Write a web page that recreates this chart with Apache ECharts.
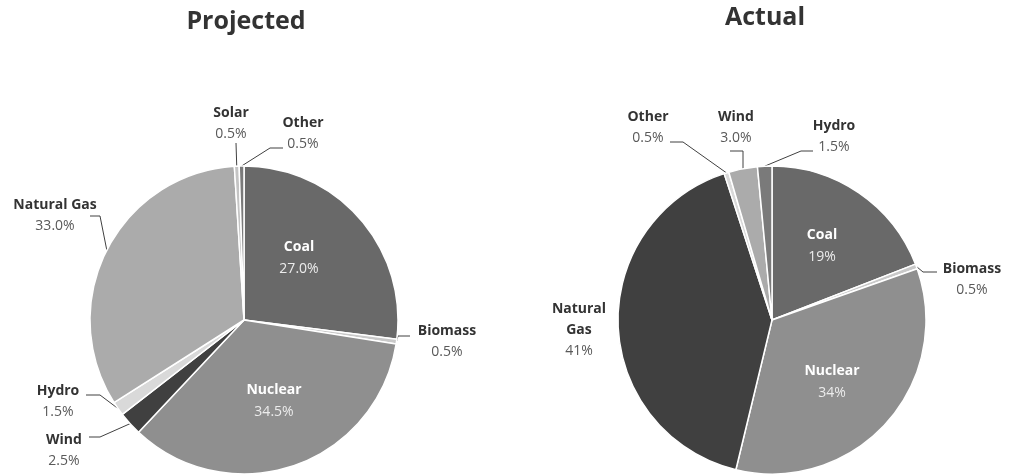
<!DOCTYPE html>
<html lang="en">
  <head>
    <meta charset="UTF-8" />
    <title>Projected vs Actual</title>
    <style>
      * {
        padding: 0;
        margin: 0;
      }
      html,
      body {
        width: 100%;
        height: 100%;
        background: #fff;
      }
      #main {
        width: 1015px;
        height: 474px;
      }
    </style>
  </head>
  <body>
    <div id="main"></div>
    <script src="https://cdn.jsdelivr.net/npm/echarts@6/dist/echarts.min.js"></script>
    <script>
      // data
      var projectedNames = ['Coal', 'Biomass', 'Nuclear', 'Wind', 'Hydro', 'Natural Gas', 'Solar', 'Other'];
      var projectedValues = [27.0, 0.5, 34.5, 2.5, 1.5, 33.0, 0.5, 0.5];
      var projectedColors = ['#696969', '#c9c9c9', '#8f8f8f', '#404040', '#d9d9d9', '#ababab', '#c4c4c4', '#7a7a7a'];

      var actualNames = ['Coal', 'Biomass', 'Nuclear', 'Natural Gas', 'Other', 'Wind', 'Hydro'];
      var actualValues = [19, 0.5, 34, 41, 0.5, 3.0, 1.5];
      var actualColors = ['#696969', '#c9c9c9', '#8f8f8f', '#404040', '#d9d9d9', '#ababab', '#7a7a7a'];

      var insideNames = ['Coal', 'Nuclear'];
      var font = '"Open Sans", "Noto Sans", sans-serif';

      // where each label sits: block centre, and the bend / end of its leader line
      var labelSpots = [
        {
          'Coal': { c: [299, 258] },
          'Nuclear': { c: [274, 401] },
          'Biomass': { c: [447, 342], bend: [398, 336], end: [410, 336] },
          'Wind': { c: [64, 451], bend: [100, 437], end: [89, 437] },
          'Hydro': { c: [58, 402], bend: [100, 395], end: [86, 395] },
          'Natural Gas': { c: [55, 216], bend: [100, 216], end: [90, 216] },
          'Solar': { c: [231, 124], bend: [236, 143], end: [236, 143] },
          'Other': { c: [303, 134], bend: [270, 148], end: [283, 148] }
        },
        {
          'Coal': { c: [822, 246] },
          'Nuclear': { c: [832, 382] },
          'Biomass': { c: [972, 280], bend: [923, 272], end: [937, 272] },
          'Natural Gas': { c: [579, 330] },
          'Other': { c: [648, 128], bend: [683, 142], end: [670, 142] },
          'Wind': { c: [736, 128], bend: [743, 151], end: [730, 151] },
          'Hydro': { c: [834, 137], bend: [801, 151], end: [813, 151] }
        }
      ];

      var myChart = echarts.init(document.getElementById('main'));

      function buildData(names, values, colors, fmt, wrapNames) {
        return names.map(function(n, i) {
          var item = {
            name: n,
            value: values[i],
            itemStyle: { color: colors[i] }
          };
          var shown = wrapNames ? n.split(' ') : [n];
          if (insideNames.indexOf(n) > -1) {
            item.label = {
              position: 'inside',
              formatter: '{ni|' + n + '}\n{vi|' + fmt(values[i]) + '}'
            };
          } else {
            item.label = {
              formatter: shown.map(function(p) { return '{n|' + p + '}'; }).join('\n') + '\n{v|' + fmt(values[i]) + '}'
            };
          }
          return item;
        });
      }

      var rich = {
        n: { fontFamily: font, fontWeight: 'bold', fontSize: 14, color: '#333', lineHeight: 21, align: 'center' },
        v: { fontFamily: font, fontSize: 14, color: '#595959', lineHeight: 21, align: 'center' },
        ni: { fontFamily: font, fontWeight: 'bold', fontSize: 14, color: '#fff', lineHeight: 22, align: 'center' },
        vi: { fontFamily: font, fontSize: 14, color: '#ececec', lineHeight: 22, align: 'center' }
      };

      function pieSeries(idx, cx, data) {
        var spots = labelSpots[idx];
        return {
          type: 'pie',
          center: [cx, 320],
          radius: 154,
          startAngle: 90,
          clockwise: true,
          avoidLabelOverlap: false,
          itemStyle: { borderColor: '#fff', borderWidth: 1.5 },
          label: { show: true, rich: rich },
          labelLine: {
            show: true,
            length: 14,
            length2: 10,
            lineStyle: { color: '#404040', width: 1 }
          },
          labelLayout: function(params) {
            var s = spots[data[params.dataIndex].name];
            if (!s) return {};
            var out = {
              x: s.c[0],
              y: s.c[1],
              align: 'center',
              verticalAlign: 'middle'
            };
            if (params.labelLinePoints) {
              var p0 = params.labelLinePoints[0];
              out.labelLinePoints = s.bend ? [p0, s.bend, s.end] : [p0, p0, p0];
            }
            return out;
          },
          emphasis: { disabled: true },
          data: data
        };
      }

      var option = {
        animation: false,
        title: [
          {
            text: 'Projected',
            left: 246,
            top: 9,
            padding: 0,
            textAlign: 'center',
            textStyle: { fontFamily: font, fontSize: 25, fontWeight: 'bold', color: '#333' }
          },
          {
            text: 'Actual',
            left: 765,
            top: 5,
            padding: 0,
            textAlign: 'center',
            textStyle: { fontFamily: font, fontSize: 25, fontWeight: 'bold', color: '#333' }
          }
        ],
        series: [
          pieSeries(0, 244, buildData(projectedNames, projectedValues, projectedColors, function(v) {
            return v.toFixed(1) + '%';
          }, false)),
          pieSeries(1, 772, buildData(actualNames, actualValues, actualColors, function(v) {
            return v >= 10 ? v.toFixed(0) + '%' : v.toFixed(1) + '%';
          }, true))
        ]
      };
      myChart.setOption(option);
    </script>
  </body>
</html>
